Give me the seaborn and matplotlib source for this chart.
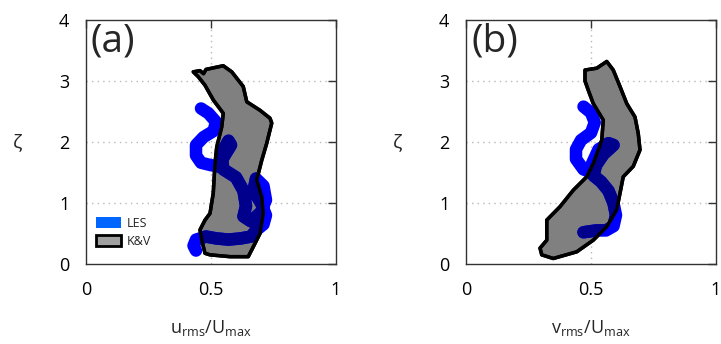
import numpy as np
import pandas as pd
import matplotlib
matplotlib.use("Agg")
import matplotlib.pyplot as plt
import seaborn as sns
from matplotlib.patches import Patch, Polygon

# ---------------- data ----------------
# K&V envelope, panel (a)
kv_a_x = [0.429, 0.456, 0.470, 0.480, 0.503, 0.549, 0.583, 0.629, 0.643, 0.696, 0.736, 0.743,
          0.723, 0.703, 0.683, 0.703, 0.709, 0.696, 0.669, 0.649, 0.576, 0.496, 0.476,
          0.463, 0.456, 0.476, 0.496, 0.509, 0.516, 0.523, 0.543, 0.549, 0.509, 0.476, 0.449]
kv_a_y = [3.15, 3.17, 3.12, 3.19, 3.21, 3.25, 3.15, 2.91, 2.66, 2.52, 2.39, 2.31,
          1.98, 1.70, 1.38, 1.10, 0.83, 0.50, 0.28, 0.12, 0.12, 0.15, 0.175,
          0.39, 0.56, 0.72, 0.83, 1.16, 1.65, 1.92, 2.25, 2.47, 2.69, 2.93, 3.07]
# K&V envelope, panel (b)
kv_b_x = [0.476, 0.523, 0.563, 0.589, 0.616, 0.643, 0.676, 0.689, 0.696, 0.669, 0.629, 0.616,
          0.603, 0.563, 0.509, 0.443, 0.349, 0.303, 0.296, 0.323, 0.323, 0.376, 0.429,
          0.483, 0.509, 0.543, 0.549, 0.509, 0.489, 0.476]
kv_b_y = [3.18, 3.21, 3.32, 3.18, 2.91, 2.63, 2.41, 2.14, 1.87, 1.60, 1.43, 1.16,
          0.89, 0.61, 0.39, 0.20, 0.09, 0.15, 0.26, 0.39, 0.72, 0.94, 1.21,
          1.43, 1.65, 2.03, 2.36, 2.63, 2.85, 3.00]
# LES profiles
les_a_x = [0.46, 0.49, 0.52, 0.51, 0.47, 0.44, 0.44, 0.46, 0.50, 0.53, 0.55, 0.58, 0.57, 0.54,
           0.55, 0.60, 0.63, 0.64, 0.63, 0.66, 0.70, 0.72, 0.71, 0.68, 0.67, 0.70, 0.72, 0.71,
           0.68, 0.66, 0.62, 0.57, 0.52, 0.48, 0.44, 0.43, 0.44]
les_a_y = [2.55, 2.47, 2.33, 2.18, 2.08, 1.95, 1.78, 1.66, 1.62, 1.60, 1.75, 1.95, 2.02, 1.80,
           1.55, 1.42, 1.20, 0.95, 0.78, 0.70, 0.85, 1.05, 1.28, 1.40, 1.20, 1.00, 0.80, 0.65,
           0.55, 0.45, 0.42, 0.40, 0.42, 0.45, 0.40, 0.30, 0.22]
les_b_x = [0.47, 0.50, 0.515, 0.50, 0.46, 0.44, 0.44, 0.47, 0.49, 0.51, 0.53, 0.57, 0.59, 0.55,
           0.52, 0.51, 0.54, 0.57, 0.59, 0.60, 0.59, 0.56, 0.52, 0.47]
les_b_y = [2.58, 2.48, 2.32, 2.15, 2.03, 1.88, 1.72, 1.55, 1.52, 1.70, 1.88, 1.98, 1.95, 1.80,
           1.62, 1.45, 1.35, 1.20, 1.00, 0.80, 0.62, 0.55, 0.55, 0.52]

panel_labels = ["(a)", "(b)"]
x_labels = ["u$_{rms}$/U$_{max}$", "v$_{rms}$/U$_{max}$"]
x_ticks = [0, 0.5, 1]
y_ticks = [0, 1, 2, 3, 4]
legend_labels = ["LES", "K&V"]

# ---------------- style ----------------
sns.set_style("white")
plt.rcParams["font.family"] = ["Open Sans", "DejaVu Sans"]
plt.rcParams["mathtext.default"] = "regular"

fig = plt.figure(figsize=(7.21, 3.44), dpi=100)
axes = [fig.add_axes([86 / 721, 80 / 344, 250 / 721, 244 / 344]),
        fig.add_axes([466 / 721, 80 / 344, 250 / 721, 244 / 344])]

panels = [(kv_a_x, kv_a_y, les_a_x, les_a_y), (kv_b_x, kv_b_y, les_b_x, les_b_y)]
LW = 9.0

for i, (ax, (kx, ky, lx, ly)) in enumerate(zip(axes, panels)):
    ax.set_xlim(0, 1)
    ax.set_ylim(0, 4)
    # grid
    for yv in [1, 2, 3]:
        ax.axhline(yv, color="#b8b8b8", lw=1.0, ls=(0, (1, 3)), zorder=0)
    ax.axvline(0.5, color="#b8b8b8", lw=1.0, ls=(0, (1, 3)), zorder=0)

    poly = Polygon(np.column_stack([kx, ky]), closed=True, facecolor="#808080",
                   edgecolor="black", lw=2.5, joinstyle="round", zorder=2)
    ax.add_patch(poly)

    df = pd.DataFrame({"x": lx, "y": ly})
    sns.lineplot(data=df, x="x", y="y", sort=False, estimator=None, ax=ax,
                 color="#0000ff", lw=LW, solid_capstyle="round",
                 solid_joinstyle="round", zorder=3)
    # darker tone where LES overlaps the K&V envelope
    clip_poly = Polygon(np.column_stack([kx, ky]), closed=True, transform=ax.transData)
    ov, = ax.plot(lx, ly, color="#00008c", lw=LW, solid_capstyle="round",
                  solid_joinstyle="round", zorder=4)
    ov.set_clip_path(clip_poly)
    # envelope outline on top
    ax.add_patch(Polygon(np.column_stack([kx, ky]), closed=True, facecolor="none",
                         edgecolor="black", lw=2.5, joinstyle="round", zorder=5))

    ax.set_xticks(x_ticks)
    ax.set_xticklabels(["0", "0.5", "1"])
    ax.set_yticks(y_ticks)
    ax.set_yticklabels([str(t) for t in y_ticks])
    ax.tick_params(direction="in", length=6, width=1, color="#333333",
                   top=True, right=True, labelsize=13, pad=12, labelcolor="black")
    for s in ax.spines.values():
        s.set_color("#333333")
        s.set_linewidth(1.0)
        s.set_zorder(6)
    ax.set_xlabel(x_labels[i], fontsize=13, labelpad=14)
    ax.set_ylabel("ζ", fontsize=14, rotation=0, labelpad=30, va="center")
    ax.text(0.02, 0.99, panel_labels[i], transform=ax.transAxes,
            fontsize=28, va="top", ha="left", zorder=7)

handles = [Patch(facecolor="#0066ff", edgecolor="none"),
           Patch(facecolor="#a0a0a0", edgecolor="black", lw=2)]
axes[0].legend(handles, legend_labels, loc="lower left", bbox_to_anchor=(0.02, 0.045),
               frameon=False, fontsize=9, handlelength=2.0, handleheight=1.0,
               handletextpad=0.5, labelspacing=0.4, borderaxespad=0)

fig.savefig("out.png", dpi=100)
